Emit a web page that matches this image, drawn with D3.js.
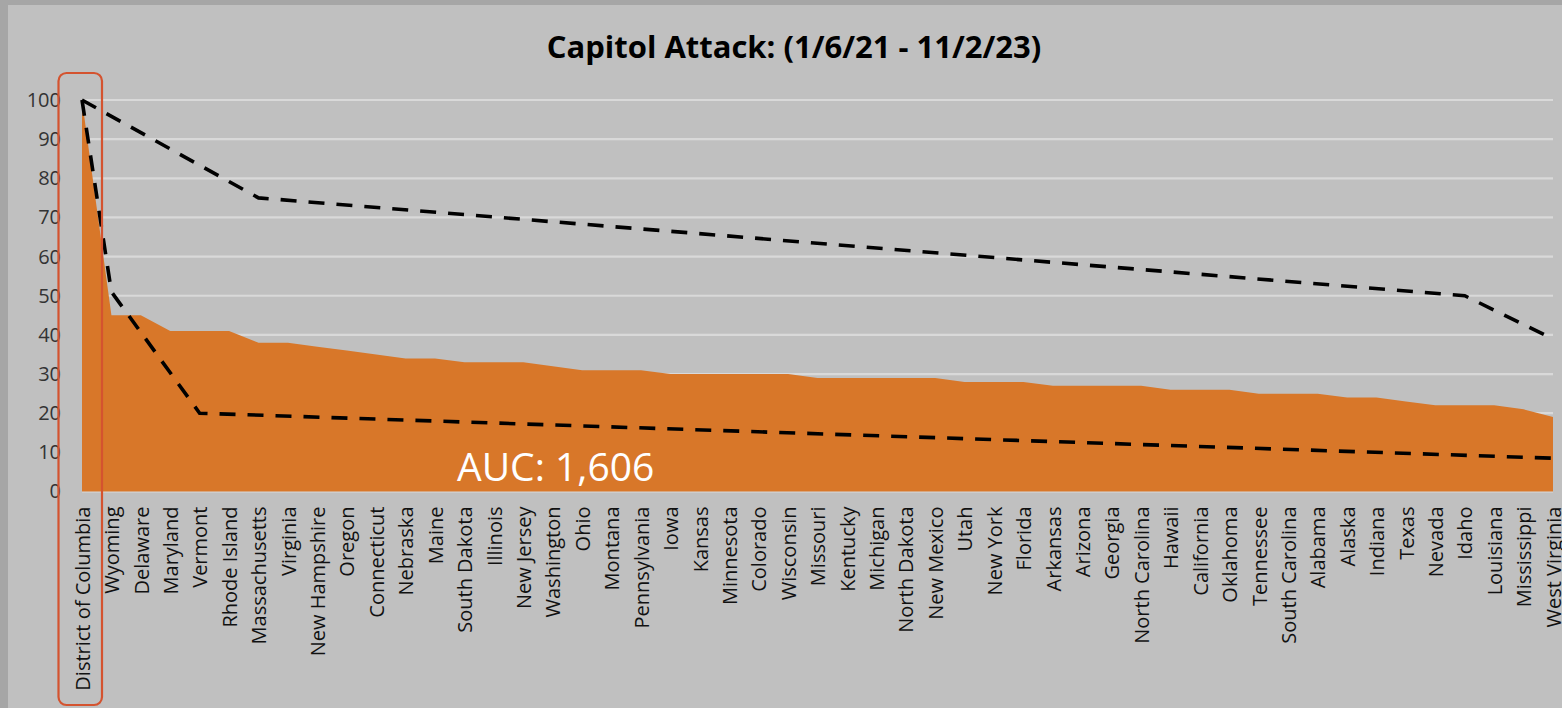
<!DOCTYPE html>
<html>
<head>
<meta charset="utf-8">
<script src="https://cdn.jsdelivr.net/npm/d3@7"></script>
<style>
  body { margin: 0; background: #a6a6a6; }
  text { font-family: "Open Sans", "DejaVu Sans", sans-serif; }
</style>
</head>
<body>
<div id="chart"></div>
<script>
// Data
var states = ["District of Columbia", "Wyoming", "Delaware", "Maryland", "Vermont",
  "Rhode Island", "Massachusetts", "Virginia", "New Hampshire", "Oregon", "Connecticut",
  "Nebraska", "Maine", "South Dakota", "Illinois", "New Jersey", "Washington", "Ohio",
  "Montana", "Pennsylvania", "Iowa", "Kansas", "Minnesota", "Colorado", "Wisconsin",
  "Missouri", "Kentucky", "Michigan", "North Dakota", "New Mexico", "Utah", "New York",
  "Florida", "Arkansas", "Arizona", "Georgia", "North Carolina", "Hawaii", "California",
  "Oklahoma", "Tennessee", "South Carolina", "Alabama", "Alaska", "Indiana", "Texas",
  "Nevada", "Idaho", "Louisiana", "Mississippi", "West Virginia"];

var values = [100, 45, 45, 41, 41, 41, 38, 38, 37, 36, 35, 34, 34, 33, 33, 33, 32, 31,
  31, 31, 30, 30, 30, 30, 30, 29, 29, 29, 29, 29, 28, 28, 28, 27, 27, 27, 27, 26, 26,
  26, 25, 25, 25, 24, 24, 23, 22, 22, 22, 21, 19];

// the two dashed reference lines (corner points only)
var upperStates = ["District of Columbia", "Massachusetts", "Idaho", "West Virginia"];
var upperValues = [100, 75, 50, 39];
var lowerStates = ["District of Columbia", "Wyoming", "Vermont", "West Virginia"];
var lowerValues = [100, 51, 20, 8.5];

var yTicks = [0, 10, 20, 30, 40, 50, 60, 70, 80, 90, 100];
var title = "Capitol Attack: (1/6/21 - 11/2/23)";
var aucLabel = "AUC: 1,606";
var highlighted = "District of Columbia";

var svgWidth = 1562;
var svgHeight = 708;

var svg = d3.select("#chart").append("svg")
  .attr("width", svgWidth).attr("height", svgHeight)
  .style("display", "block");

// chart background (dark strip left and top is the page)
svg.append("rect")
  .attr("x", 8).attr("y", 5)
  .attr("width", svgWidth - 8).attr("height", svgHeight - 5)
  .attr("fill", "#c0c0c0");

var xScale = d3.scalePoint().domain(states).range([82, 1553]).padding(0);
var yScale = d3.scaleLinear().domain([0, 100]).range([491.5, 100]);

// gridlines
svg.append("g").selectAll("line")
  .data(yTicks).enter().append("line")
  .attr("x1", xScale.range()[0]).attr("x2", xScale.range()[1])
  .attr("y1", d => yScale(d)).attr("y2", d => yScale(d))
  .attr("stroke", "#d9d9d9").attr("stroke-width", 2.2);

// area
var rows = states.map((s, i) => ({state: s, value: values[i]}));
var area = d3.area()
  .x(d => xScale(d.state))
  .y0(yScale(0))
  .y1(d => yScale(d.value));

svg.append("path")
  .datum(rows)
  .attr("d", area)
  .attr("fill", "#d87729");

// dashed lines
var line = d3.line()
  .x(d => xScale(d[0]))
  .y(d => yScale(d[1]));

[[upperStates, upperValues], [lowerStates, lowerValues]].forEach(function(pair) {
  var pts = pair[0].map((s, i) => [s, pair[1][i]]);
  svg.append("path")
    .attr("d", line(pts))
    .attr("fill", "none")
    .attr("stroke", "#000")
    .attr("stroke-width", 3.6)
    .attr("stroke-dasharray", "16,12")
    .attr("stroke-linejoin", "miter");
});

// y axis
var yAxis = d3.axisLeft(yScale).tickValues(yTicks).tickSize(0).tickPadding(21);
var yAxisDraw = svg.append("g")
  .attr("transform", `translate(${xScale.range()[0]},0)`)
  .call(yAxis);
yAxisDraw.select(".domain").remove();
yAxisDraw.selectAll("text")
  .attr("font-size", "20px")
  .attr("fill", "#333")
  .style("font-family", "'Open Sans', sans-serif");

// x axis with rotated state names
var xAxis = d3.axisBottom(xScale).tickSize(0);
var xAxisDraw = svg.append("g")
  .attr("transform", `translate(0,${yScale(0)})`)
  .call(xAxis);
xAxisDraw.select(".domain").remove();
xAxisDraw.selectAll("text")
  .attr("font-size", "20px")
  .attr("fill", "#111")
  .style("font-family", "'Open Sans', sans-serif")
  .attr("text-anchor", "end")
  .attr("transform", "rotate(-90)")
  .attr("x", -15)
  .attr("y", 0)
  .attr("dy", "0.36em");

// title
svg.append("text")
  .attr("x", 794).attr("y", 58)
  .attr("text-anchor", "middle")
  .attr("font-size", "31px")
  .attr("font-weight", "bold")
  .attr("fill", "#000")
  .text(title);

// AUC annotation
svg.append("text")
  .attr("x", 457).attr("y", 481)
  .attr("font-size", "39px")
  .attr("fill", "#fff")
  .text(aucLabel);

// red box round the highlighted category
var hx = xScale(highlighted);
svg.append("rect")
  .attr("x", hx - 23.5).attr("y", 73)
  .attr("width", 43.5).attr("height", 632)
  .attr("rx", 8).attr("ry", 8)
  .attr("fill", "none")
  .attr("stroke", "#d4532f")
  .attr("stroke-width", 2.2);
</script>
</body>
</html>
